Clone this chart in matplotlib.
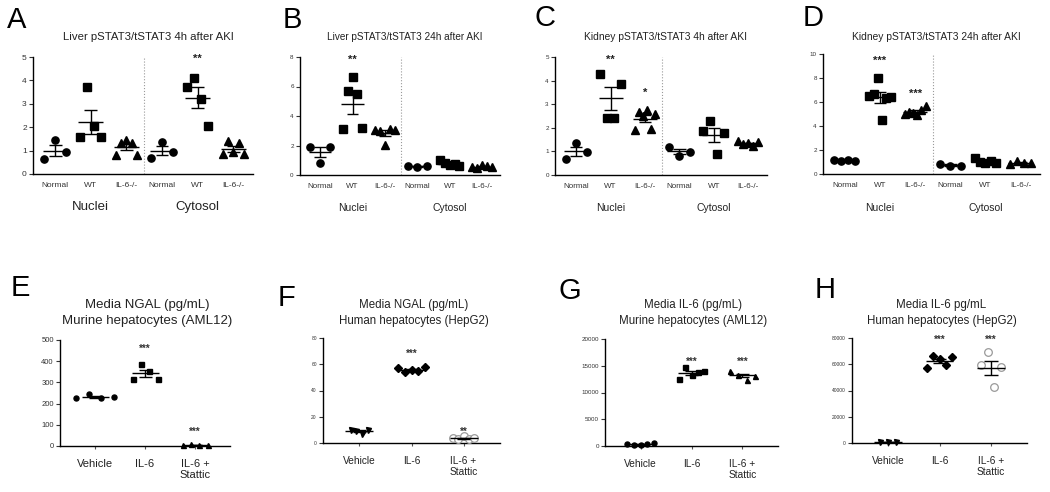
import numpy as np
import matplotlib.pyplot as plt

plt.rcParams['font.family'] = ['Liberation Sans', 'DejaVu Sans']

W, H = 1050, 492

# ---- top row (A-D): Nuclei / Cytosol ----
top_cats = ['Normal', 'WT', 'IL-6-/-', 'Normal', 'WT', 'IL-6-/-']
top_groups = ['Nuclei', 'Cytosol']
top_markers = ['o', 's', '^', 'o', 's', '^']

a_title = 'Liver pSTAT3/tSTAT3 4h after AKI'
a_vals = [[0.62, 1.45, 0.93],
          [1.56, 3.72, 2.05, 1.59],
          [0.82, 1.32, 1.46, 1.32, 0.82],
          [0.68, 1.35, 0.95],
          [3.7, 4.1, 3.19, 2.05],
          [0.85, 1.43, 0.92, 1.32, 0.85]]
a_yticks = [0, 1, 2, 3, 4, 5]
a_stars = ['', '', '', '', '**', '']
a_star_y = [0, 0, 0, 0, 4.93, 0]

b_title = 'Liver pSTAT3/tSTAT3 24h after AKI'
b_vals = [[1.91, 0.83, 1.91],
          [3.09, 5.7, 6.64, 5.47, 3.22],
          [3.04, 3.0, 2.05, 3.09, 3.04],
          [0.6, 0.55, 0.62],
          [1.0, 0.8, 0.65, 0.75, 0.6],
          [0.55, 0.5, 0.65, 0.6, 0.55]]
b_yticks = [0, 2, 4, 6, 8]
b_stars = ['', '**', '', '', '', '']
b_star_y = [0, 7.8, 0, 0, 0, 0]

c_title = 'Kidney pSTAT3/tSTAT3 4h after AKI'
c_vals = [[0.66, 1.34, 0.99],
          [4.3, 2.42, 2.42, 3.87],
          [1.9, 2.65, 2.5, 2.75, 1.95, 2.6],
          [1.2, 0.82, 0.99],
          [1.87, 2.3, 0.89, 1.76],
          [1.42, 1.3, 1.35, 1.25, 1.4]]
c_yticks = [0, 1, 2, 3, 4, 5]
c_stars = ['', '**', '*', '', '', '']
c_star_y = [0, 4.9, 3.48, 0, 0, 0]

d_title = 'Kidney pSTAT3/tSTAT3 24h after AKI'
d_vals = [[1.15, 1.05, 1.2, 1.1],
          [6.5, 6.7, 8.0, 4.5, 6.3, 6.4],
          [5.0, 5.2, 5.1, 4.9, 5.3, 5.7],
          [0.85, 0.7, 0.7],
          [1.3, 1.0, 0.9, 1.1, 0.95],
          [0.8, 1.05, 0.95, 0.9]]
d_yticks = [0, 2, 4, 6, 8, 10]
d_stars = ['', '***', '***', '', '', '']
d_star_y = [0, 9.4, 6.7, 0, 0, 0]

# ---- bottom row (E-H): cell media ----
bot_cats = ['Vehicle', 'IL-6', 'IL-6 +\nStattic']

e_title = 'Media NGAL (pg/mL)\nMurine hepatocytes (AML12)'
e_vals = [[225, 245, 228, 230], [314, 387, 354, 314], [5, 8, 3, 6]]
e_markers = ['o', 's', '^']
e_yticks = [0, 100, 200, 300, 400, 500]
e_stars = ['', '***', '***']
e_star_y = [0, 457, 68]

f_title = 'Media NGAL (pg/mL)\nHuman hepatocytes (HepG2)'
f_vals = [[10, 9, 7, 10], [57, 54, 56, 55, 58], [4, 3, 5, 3, 4]]
f_markers = ['v', 'D', 'o']
f_yticks = [0, 20, 40, 60, 80]
f_stars = ['', '***', '**']
f_star_y = [0, 68, 8.5]

g_title = 'Media IL-6 (pg/mL)\nMurine hepatocytes (AML12)'
g_vals = [[400, 200, 100, 300, 600],
          [12500, 14700, 13300, 13750, 14100],
          [14060, 13300, 12400, 13000]]
g_markers = ['o', 's', '^']
g_yticks = [0, 5000, 10000, 15000, 20000]
g_stars = ['', '***', '***']
g_star_y = [0, 15700, 15700]

h_title = 'Media IL-6 pg/mL\nHuman hepatocytes (HepG2)'
h_vals = [[500, 600, 500],
          [57500, 66000, 64000, 59500, 65500],
          [59500, 69000, 42500, 58000]]
h_markers = ['v', 'D', 'o']
h_yticks = [0, 20000, 40000, 60000, 80000]
h_stars = ['', '***', '***']
h_star_y = [0, 78700, 78700]


def rect(x0, y0, x1, y1):
    return [x0 / W, 1 - y1 / H, (x1 - x0) / W, (y1 - y0) / H]


def draw_group(ax, x, vals, marker, ms, spread, mean_w, cap_w, open_marker=False):
    vals = np.asarray(vals, float)
    n = len(vals)
    xs = x + np.linspace(-spread, spread, n)
    if open_marker:
        ax.plot(xs, vals, marker, ms=ms, mfc='white', mec='#9a9a9a', mew=0.9,
                ls='none', clip_on=False, zorder=3)
    else:
        ax.plot(xs, vals, marker, ms=ms, color='black', ls='none', clip_on=False, zorder=3)
    m = vals.mean()
    sem = vals.std(ddof=1) / np.sqrt(n)
    ax.hlines(m, x - mean_w, x + mean_w, color='black', lw=1.0, zorder=4)
    ax.vlines(x, m - sem, m + sem, color='black', lw=1.0, zorder=4)
    ax.hlines([m - sem, m + sem], x - cap_w, x + cap_w, color='black', lw=1.0, zorder=4)


def style_axes(ax, yticks, tick_fs, xlim):
    ax.set_xlim(*xlim)
    ax.set_ylim(yticks[0], yticks[-1])
    ax.set_yticks(yticks)
    ax.spines['top'].set_visible(False)
    ax.spines['right'].set_visible(False)
    ax.spines['left'].set_linewidth(1.0)
    ax.spines['bottom'].set_linewidth(1.0)
    ax.tick_params(axis='y', labelsize=tick_fs, length=3, width=0.8, pad=1.5, colors='#333333')
    ax.patch.set_alpha(0)


fig = plt.figure(figsize=(10.5, 4.92), dpi=100)

top_panels = [
    ('A', a_title, a_vals, a_yticks, a_stars, a_star_y, (33, 57, 253, 174), (17, 20), 8.2, 6, 9.5, 6),
    ('B', b_title, b_vals, b_yticks, b_stars, b_star_y, (300, 57, 500, 175), (292, 20), 7.2, 4.5, 7.5, 5.8),
    ('C', c_title, c_vals, c_yticks, c_stars, c_star_y, (555, 57, 767, 175), (545, 18), 7.4, 4.5, 7.5, 5.8),
    ('D', d_title, d_vals, d_yticks, d_stars, d_star_y, (823, 54, 1040, 174), (813, 18), 7.4, 4.5, 7.5, 5.8),
]

for letter, title, vals, yticks, stars, star_y, box, lpos, title_fs, tick_fs, grp_fs, cat_fs in top_panels:
    ax = fig.add_axes(rect(*box))
    xlim = (-0.62, 5.55)
    style_axes(ax, yticks, tick_fs, xlim)
    pos = np.arange(len(top_cats))
    for i, v in enumerate(vals):
        draw_group(ax, pos[i], v, top_markers[i], 5.2, 0.3, 0.35, 0.18)
        if stars[i]:
            ax.text(pos[i], star_y[i], stars[i], ha='center', va='center',
                    fontsize=8, fontweight='bold', color='#222222')
    ax.vlines(2.5, yticks[0], yticks[-1], color='#9a9a9a', lw=0.8, ls=':')
    ax.set_xticks(pos)
    ax.set_xticklabels(top_cats, fontsize=cat_fs, color='#333333')
    ax.tick_params(axis='x', length=0, pad=6)
    for g, gx in zip(top_groups, [1, 4]):
        ax.text(gx, -0.28, g, transform=ax.get_xaxis_transform(), ha='center', va='center',
                fontsize=grp_fs, color='#222222')
    cx = (box[0] + box[2]) / 2 + 5
    fig.text(cx / W, 1 - 37 / H, title, ha='center', va='center', fontsize=title_fs, color='#222222')
    fig.text(lpos[0] / W, 1 - lpos[1] / H, letter, ha='center', va='center', fontsize=21)

bot_panels = [
    ('E', e_title, e_vals, e_markers, e_yticks, e_stars, e_star_y, (60, 340, 230, 446), (20, 288), 9.5, 5.5, False, 0.38),
    ('F', f_title, f_vals, f_markers, f_yticks, f_stars, f_star_y, (323, 338, 500, 443), (287, 298), 8.3, 3.5, True, 0.17),
    ('G', g_title, g_vals, g_markers, g_yticks, g_stars, g_star_y, (605, 339, 778, 446), (570, 291), 8.3, 4.5, False, 0.26),
    ('H', h_title, h_vals, h_markers, h_yticks, h_stars, h_star_y, (852, 338, 1027, 443), (825, 290), 8.3, 3.5, True, 0.16),
]

for letter, title, vals, markers, yticks, stars, star_y, box, lpos, title_fs, tick_fs, open_last, veh_spread in bot_panels:
    ax = fig.add_axes(rect(*box))
    style_axes(ax, yticks, tick_fs, (-0.7, 2.7))
    pos = np.arange(len(bot_cats))
    for i, v in enumerate(vals):
        is_open = open_last and i == 2
        ms = 5.5 if is_open else 3.6
        spread = veh_spread if i == 0 else (0.2 if is_open else 0.25)
        draw_group(ax, pos[i], v, markers[i], ms, spread, 0.27, 0.13, open_marker=is_open)
        if stars[i]:
            ax.text(pos[i], star_y[i], stars[i], ha='center', va='center',
                    fontsize=7, fontweight='bold', color='#333333')
    ax.set_xticks(pos)
    ax.set_xticklabels(bot_cats, fontsize=8 if letter == 'E' else 7.3, color='#222222',
                       linespacing=1.1)
    ax.tick_params(axis='x', length=2.5, width=0.8, pad=7, color='#555555')
    cx = (box[0] + box[2]) / 2 + 2
    fig.text(cx / W, 1 - 313 / H, title, ha='center', va='center', fontsize=title_fs,
             color='#222222', linespacing=1.5)
    fig.text(lpos[0] / W, 1 - lpos[1] / H, letter, ha='center', va='center', fontsize=21)

fig.savefig('out.png', dpi=100)
